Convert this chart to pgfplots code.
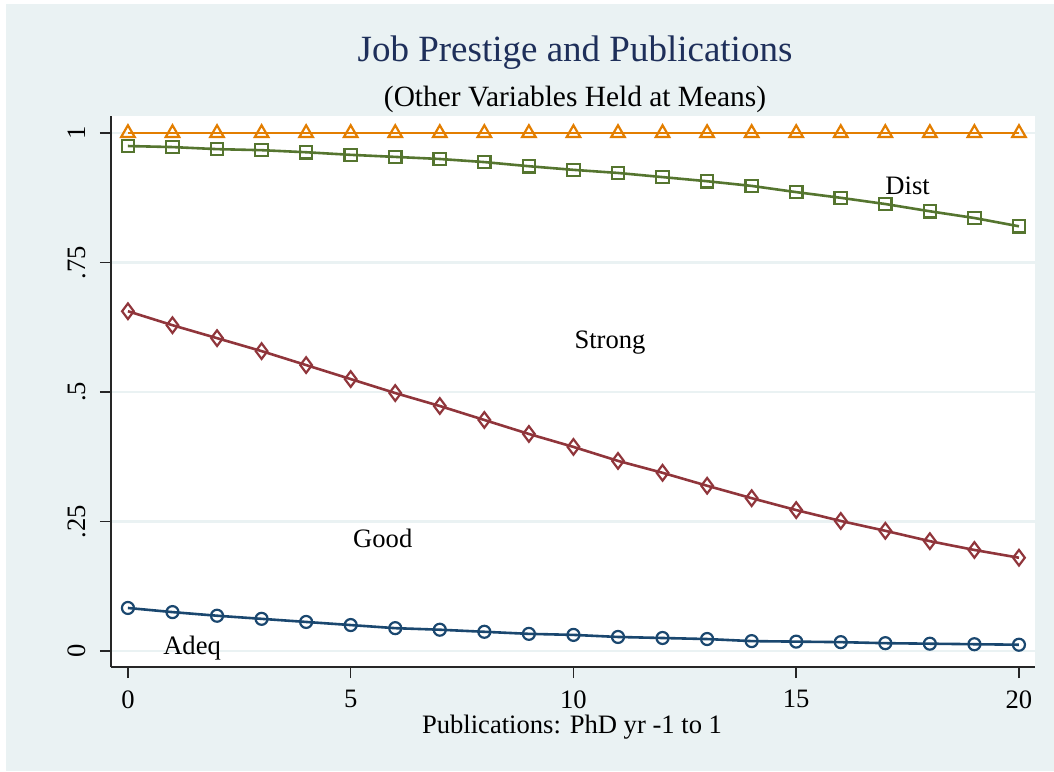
\documentclass[border=0pt]{standalone}
\usepackage{pgfplots}
\pgfplotsset{compat=1.18}
\usepackage{fontspec}
\setmainfont{Liberation Serif}

\definecolor{bgc}{HTML}{EAF2F3}
\definecolor{gridc}{HTML}{EAF2F3}
\definecolor{titlec}{HTML}{1E2F5A}
\definecolor{snavy}{HTML}{1A476F}
\definecolor{smaroon}{HTML}{90353B}
\definecolor{sgreen}{HTML}{55752F}
\definecolor{sorange}{HTML}{E37E00}

\begin{document}
\begin{tikzpicture}
% outer background (1px = 0.5pt)
\fill[white] (0pt,0pt) rectangle (527pt,385.5pt);
\fill[bgc] (3pt,0pt) rectangle (527pt,383.5pt);

\begin{axis}[
    at={(55.5pt,52pt)}, anchor=south west,
    scale only axis,
    width=462pt, height=275.5pt,
    xmin=-0.38, xmax=20.36,
    ymin=-0.031, ymax=1.033,
    axis background/.style={fill=white},
    axis x line*=bottom, axis y line*=left,
    axis line style={-, line width=0.75pt, color=black!85},
    xtick={0,5,10,15,20},
    ytick={0,0.25,0.5,0.75,1},
    yticklabels={0,.25,.5,.75,1},
    tick align=outside,
    major tick length=5.5pt,
    tick style={line width=0.75pt, color=black!85},
    minor tick num=0,
    ymajorgrids,
    major grid style={color=gridc, line width=1.2pt},
    /pgf/number format/assume math mode=true,
    ticklabel style={font=\fontsize{13.3}{15}\selectfont, inner sep=0pt},
    xticklabel style={anchor=north},
    xticklabel shift=6pt,
    yticklabel style={rotate=90, anchor=south},
    yticklabel shift=7pt,
    every axis plot/.append style={line width=1.3pt, mark options={solid, line width=1.1pt, fill=white}},
]
% Adeq
\addplot[color=snavy, mark=o, mark size=3pt] coordinates {
(0,0.083) (1,0.075) (2,0.068) (3,0.062) (4,0.056) (5,0.050) (6,0.044)
(7,0.041) (8,0.037) (9,0.033) (10,0.031) (11,0.027) (12,0.025) (13,0.023)
(14,0.019) (15,0.018) (16,0.017) (17,0.015) (18,0.014) (19,0.013) (20,0.012)};
% Good
\addplot[color=smaroon, mark=diamond, mark size=3.9pt] coordinates {
(0,0.656) (1,0.629) (2,0.604) (3,0.579) (4,0.552) (5,0.525) (6,0.498)
(7,0.473) (8,0.446) (9,0.419) (10,0.394) (11,0.367) (12,0.344) (13,0.319)
(14,0.295) (15,0.272) (16,0.251) (17,0.232) (18,0.212) (19,0.195) (20,0.180)};
% Strong
\addplot[color=sgreen, mark=square, mark size=3.1pt] coordinates {
(0,0.975) (1,0.973) (2,0.969) (3,0.967) (4,0.963) (5,0.958) (6,0.954)
(7,0.950) (8,0.944) (9,0.936) (10,0.929) (11,0.923) (12,0.915) (13,0.907)
(14,0.898) (15,0.886) (16,0.875) (17,0.863) (18,0.849) (19,0.836) (20,0.820)};
% Dist
\addplot[color=sorange, mark=triangle, mark size=3.9pt] coordinates {
(0,1) (1,1) (2,1) (3,1) (4,1) (5,1) (6,1) (7,1) (8,1) (9,1) (10,1)
(11,1) (12,1) (13,1) (14,1) (15,1) (16,1) (17,1) (18,1) (19,1) (20,1)};

\node[font=\fontsize{13.3}{15}\selectfont] at (axis cs:17.5,0.898) {Dist};
\node[font=\fontsize{13.3}{15}\selectfont] at (axis cs:10.82,0.595) {Strong};
\node[font=\fontsize{13.3}{15}\selectfont] at (axis cs:5.72,0.218) {Good};
\node[font=\fontsize{13.3}{15}\selectfont] at (axis cs:1.44,0.006) {Adeq};
\end{axis}

\node[anchor=base, text=titlec, font=\fontsize{18.5}{21}\selectfont] at (287.5pt,354.5pt) {Job Prestige and Publications};
\node[anchor=base, font=\fontsize{14.7}{17}\selectfont] at (287.5pt,332pt) {(Other Variables Held at Means)};
\node[anchor=base, font=\fontsize{13.3}{15}\selectfont] at (286pt,19pt) {Publications: PhD yr -1 to 1};
\end{tikzpicture}
\end{document}
